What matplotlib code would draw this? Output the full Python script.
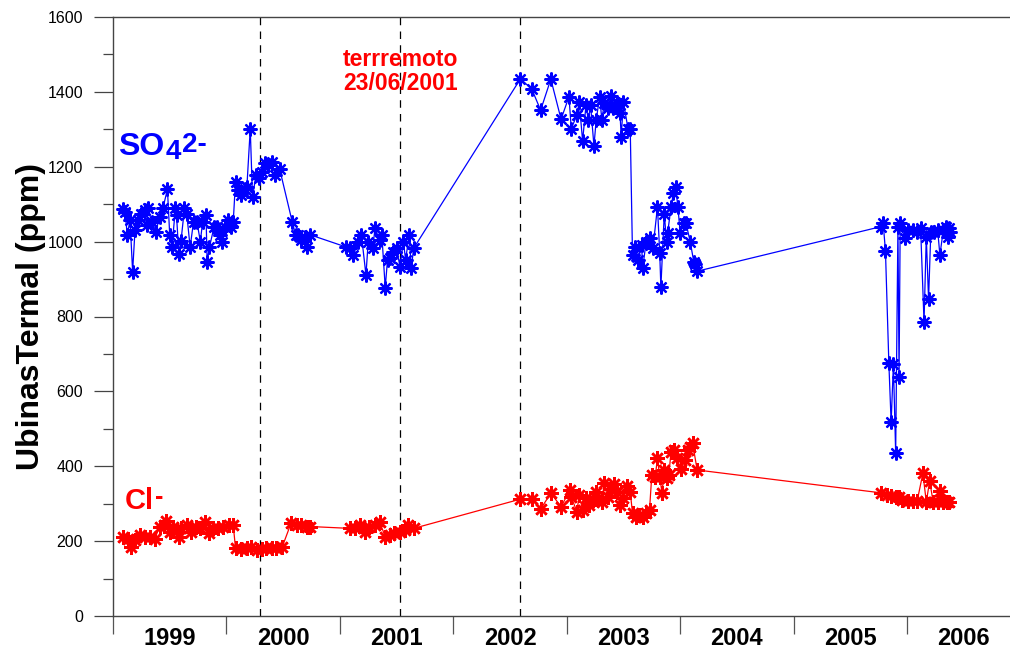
import numpy as np
import matplotlib
matplotlib.use("Agg")
import matplotlib.pyplot as plt
from matplotlib.ticker import MultipleLocator, FixedLocator, NullFormatter

plt.rcParams['font.family'] = ['Liberation Sans', 'DejaVu Sans']

# SO4 2- (ppm) vs decimal year
so4_year = [1999.085, 1999.106, 1999.126, 1999.15, 1999.173, 1999.194, 1999.22, 1999.25,
            1999.28, 1999.30, 1999.31, 1999.34, 1999.38, 1999.41, 1999.44, 1999.48,
            1999.50, 1999.52, 1999.55, 1999.56, 1999.58, 1999.60, 1999.63, 1999.65,
            1999.68, 1999.71, 1999.74, 1999.77, 1999.79, 1999.82, 1999.83, 1999.85,
            1999.89, 1999.92, 1999.94, 1999.96, 1999.99, 2000.01, 2000.04, 2000.06,
            2000.08, 2000.10, 2000.13, 2000.16, 2000.18, 2000.21, 2000.23, 2000.26,
            2000.29, 2000.31, 2000.34, 2000.37, 2000.40, 2000.43, 2000.47, 2000.58,
            2000.61, 2000.63, 2000.66, 2000.69, 2000.71, 2000.74,
            2001.05, 2001.09, 2001.12, 2001.16, 2001.19, 2001.23, 2001.25, 2001.29,
            2001.31, 2001.35, 2001.37, 2001.40, 2001.42, 2001.44, 2001.47, 2001.50,
            2001.53, 2001.56, 2001.58, 2001.61, 2001.63, 2001.65,
            2002.59, 2002.69, 2002.77, 2002.86, 2002.95, 2003.02, 2003.04, 2003.09,
            2003.11, 2003.14, 2003.17, 2003.19, 2003.21, 2003.24, 2003.26, 2003.29,
            2003.31, 2003.33, 2003.36, 2003.39, 2003.41, 2003.44, 2003.47, 2003.48,
            2003.50, 2003.54, 2003.56, 2003.58, 2003.60, 2003.63, 2003.66, 2003.67,
            2003.70, 2003.73, 2003.76, 2003.80, 2003.82, 2003.83, 2003.86, 2003.88,
            2003.89, 2003.92, 2003.94, 2003.96, 2003.98, 2004.00, 2004.03, 2004.05,
            2004.09, 2004.12, 2004.13, 2004.15,
            2005.77, 2005.79, 2005.81, 2005.84, 2005.86, 2005.88, 2005.90, 2005.92,
            2005.93, 2005.94, 2005.98, 2006.01, 2006.05, 2006.09, 2006.12, 2006.15,
            2006.17, 2006.19, 2006.21, 2006.24, 2006.27, 2006.29, 2006.32, 2006.34,
            2006.35, 2006.36, 2006.37, 2006.38]
so4_ppm = [1087, 1080, 1018, 1058, 920, 1031, 1058, 1075,
           1084, 1044, 1089, 1053, 1027, 1067, 1089, 1140,
           1018, 985, 1089, 1071, 967, 1003, 1089, 1075,
           985, 1053, 1053, 1000, 1053, 1071, 946, 985,
           1038, 1038, 1018, 1000, 1040, 1058, 1040, 1053,
           1160, 1138, 1124, 1140, 1145, 1301, 1118, 1178,
           1169, 1187, 1209, 1205, 1213, 1178, 1193, 1053,
           1018, 1018, 1004, 1013, 985, 1018,
           986, 982, 964, 1000, 1018, 911, 1000, 982,
           1036, 1004, 1018, 877, 951, 955, 973, 982,
           933, 1000, 951, 1018, 929, 982,
           1434, 1409, 1351, 1434, 1327, 1387, 1302, 1338,
           1373, 1269, 1365, 1325, 1365, 1256, 1325, 1387,
           1325, 1369, 1356, 1389, 1356, 1369, 1343, 1280,
           1373, 1302, 1302, 964, 986, 951, 991, 929,
           1000, 1009, 982, 1093, 969, 878, 1075, 1000,
           1024, 1093, 1129, 1145, 1093, 1024, 1051, 1051,
           998, 946, 940, 921,
           1040, 1049, 975, 675, 517, 673, 435, 1040,
           639, 1049, 1009, 1031, 1031, 1027, 1036, 786,
           1013, 846, 1027, 1027, 1031, 964, 1031, 1040,
           1022, 1013, 1036, 1027]

# Cl- (ppm) vs decimal year
cl_year = [1999.09, 1999.13, 1999.16, 1999.19, 1999.24, 1999.28, 1999.33, 1999.37,
           1999.41, 1999.45, 1999.47, 1999.50, 1999.53, 1999.58, 1999.60, 1999.65,
           1999.69, 1999.73, 1999.77, 1999.81, 1999.85, 1999.88, 1999.93, 1999.97,
           2000.02, 2000.06, 2000.08, 2000.13, 2000.18, 2000.22, 2000.27, 2000.31,
           2000.35, 2000.40, 2000.44, 2000.49, 2000.57, 2000.62, 2000.66, 2000.71,
           2000.74,
           2001.09, 2001.13, 2001.18, 2001.22, 2001.26, 2001.31, 2001.35, 2001.40,
           2001.44, 2001.48, 2001.53, 2001.57, 2001.60, 2001.65,
           2002.59, 2002.69, 2002.77, 2002.86, 2002.95, 2003.03, 2003.04, 2003.09,
           2003.11, 2003.14, 2003.17, 2003.20, 2003.23, 2003.26, 2003.28, 2003.31,
           2003.33, 2003.36, 2003.39, 2003.42, 2003.44, 2003.47, 2003.50, 2003.53,
           2003.56, 2003.58, 2003.61, 2003.64, 2003.67, 2003.70, 2003.73, 2003.75,
           2003.78, 2003.80, 2003.82, 2003.84, 2003.86, 2003.88, 2003.90, 2003.92,
           2003.95, 2003.97, 2004.01, 2004.04, 2004.07, 2004.09, 2004.11, 2004.15,
           2005.77, 2005.82, 2005.86, 2005.90, 2005.93, 2005.96, 2006.01, 2006.05,
           2006.09, 2006.14, 2006.17, 2006.20, 2006.23, 2006.27, 2006.29, 2006.32,
           2006.35, 2006.37]
cl_ppm = [212, 207, 183, 203, 216, 212, 212, 207,
          239, 243, 254, 225, 239, 212, 234, 243,
          225, 239, 234, 252, 221, 234, 234, 239,
          243, 243, 181, 178, 181, 183, 176, 178,
          181, 181, 181, 183, 248, 243, 243, 239,
          239,
          234, 234, 243, 225, 239, 243, 252, 212,
          216, 221, 225, 230, 243, 234,
          312, 312, 286, 328, 292, 337, 317, 279,
          323, 283, 314, 296, 310, 332, 314, 305,
          354, 319, 338, 353, 332, 296, 314, 347,
          332, 274, 265, 270, 265, 274, 283, 377,
          372, 421, 372, 329, 390, 368, 377, 439,
          443, 421, 392, 417, 443, 452, 461, 390,
          329, 323, 321, 319, 317, 310, 308, 308,
          308, 381, 305, 361, 305, 305, 335, 305,
          305, 305]

event_years = [2000.30, 2001.53, 2002.59]
year_labels = ['1999', '2000', '2001', '2002', '2003', '2004', '2005', '2006']

fig = plt.figure(figsize=(10.1, 6.54), dpi=100)
ax = fig.add_axes([113 / 1010, 38 / 654, 897 / 1010, 599 / 654])

star = (8, 2, 0)
ax.plot(so4_year, so4_ppm, color='#0000ff', lw=0.9, marker=star, ms=10, mew=1.6)
ax.plot(cl_year, cl_ppm, color='#ff0000', lw=0.9, marker=star, ms=10.5, mew=1.8)

for ey in event_years:
    ax.axvline(ey, color='black', lw=0.9, ls=(0, (6, 5)), zorder=0)

ax.set_xlim(1999.0, 1999.0 + 897 / 113.43)
ax.set_ylim(0, 1600)

ax.yaxis.set_major_locator(MultipleLocator(200))
ax.yaxis.set_minor_locator(MultipleLocator(100))
ax.tick_params(axis='y', which='major', direction='out', length=13.5, width=0.9,
               color='#444444', labelsize=11.5, pad=8)
ax.tick_params(axis='y', which='minor', direction='out', length=7, width=0.9, color='#444444')

years = np.arange(1999, 2007)
ax.xaxis.set_major_locator(FixedLocator(years))
ax.xaxis.set_major_formatter(NullFormatter())
ax.xaxis.set_minor_locator(FixedLocator(years + 0.5))
ax.set_xticklabels(year_labels, minor=True, fontsize=17, fontweight='bold')
ax.tick_params(axis='x', which='major', direction='out', length=13, width=0.9, color='#555555')
ax.tick_params(axis='x', which='minor', length=0, pad=8)

for side in ['left', 'bottom', 'top']:
    ax.spines[side].set_color('#444444')
    ax.spines[side].set_linewidth(1.0)
ax.spines['right'].set_visible(False)

ax.set_ylabel('UbinasTermal (ppm)', fontsize=23, fontweight='bold', labelpad=1)

# species labels
t1 = ax.text((118 - 113) / 897, 1 - (155 - 17) / 599, 'SO', transform=ax.transAxes,
             fontsize=23, fontweight='bold', color='#0000ff', va='baseline')
t2 = ax.annotate('4', xy=(1, 0), xycoords=t1, xytext=(1, -3), textcoords='offset pixels',
                 fontsize=20, fontweight='bold', color='#0000ff', va='bottom')
ax.annotate('2-', xy=(1, 0), xycoords=t2, xytext=(1, 7), textcoords='offset pixels',
            fontsize=20, fontweight='bold', color='#0000ff', va='bottom')

t3 = ax.text((125 - 113) / 897, 1 - (509 - 17) / 599, 'Cl', transform=ax.transAxes,
             fontsize=21, fontweight='bold', color='#ff0000', va='baseline')
ax.annotate('-', xy=(1, 0), xycoords=t3, xytext=(1, 6), textcoords='offset pixels',
            fontsize=18, fontweight='bold', color='#ff0000', va='bottom')

ax.text((343 - 113) / 897, 1 - (48 - 17) / 599, 'terrremoto\n23/06/2001', transform=ax.transAxes,
        fontsize=16.5, fontweight='bold', color='#ff0000', va='top', ha='left', linespacing=1.05)

fig.savefig('out.png', dpi=100)
